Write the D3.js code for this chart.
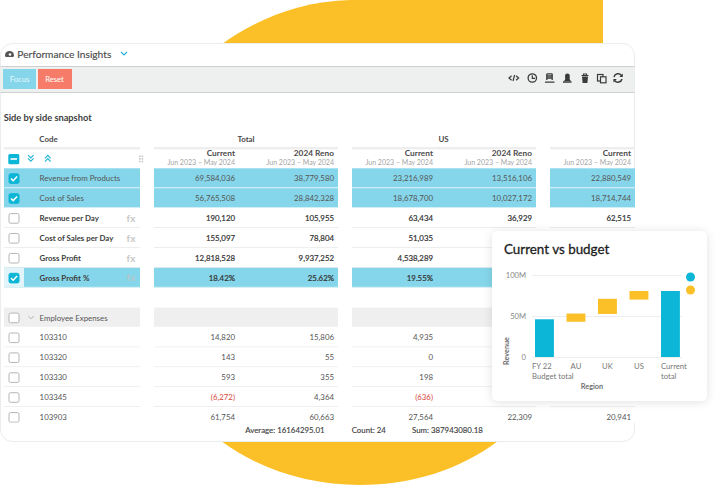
<!DOCTYPE html>
<html><head><meta charset="utf-8">
<script src="https://cdn.jsdelivr.net/npm/d3@7"></script>
<style>
html,body{margin:0;padding:0;background:#fff;overflow:hidden}
svg{display:block;font-family:Lato,sans-serif}
</style></head><body><svg id="c" width="720" height="485"></svg>
<script>
const rowLabels=["Revenue from Products","Cost of Sales","Revenue per Day","Cost of Sales per Day","Gross Profit","Gross Profit %"];
const rowChecked=[true,true,false,false,false,true];
const rowFx=[false,false,true,true,true,true];
const rowBold=[false,false,true,true,true,true];
const totalCurrent=["69,584,036","56,765,508","190,120","155,097","12,818,528","18.42%"];
const totalReno=["38,779,580","28,842,328","105,955","78,804","9,937,252","25.62%"];
const usCurrent=["23,216,989","18,678,700","63,434","51,035","4,538,289","19.55%"];
const usReno=["13,516,106","10,027,172","36,929","","",""];
const thirdCurrent=["22,880,549","18,714,744","62,515","","",""];
const codes=["103310","103320","103330","103345","103903"];
const codeTotalCurrent=["14,820","143","593","(6,272)","61,754"];
const codeTotalReno=["15,806","55","355","4,364","60,663"];
const codeUsCurrent=["4,935","0","198","(636)","27,564"];
const codeUsReno=["","","","","22,309"];
const codeThirdCurrent=["","","","","20,941"];
const regions=["FY 22","AU","UK","US","Current"];
const regionSecondLine=["Budget total","","","","total"];
const barStart=[0,43,52.5,70,0];
const barEnd=[46,53,71,80.5,80.5];
const barKind=["total","delta","delta","delta","total"];
const yTicks=[0,50,100];
const footer=["Average: 16164295.01","Count: 24","Sum: 387943080.18"];

const TEAL="#0bb6d6",YEL="#fbc027",HI="#85d6ea",TXT="#555",BOLD="#3d3d3d";
const svg=d3.select("#c");
const defs=svg.append("defs");
const sh=defs.append("filter").attr("id","sh").attr("x","-15%").attr("y","-15%").attr("width","130%").attr("height","130%");
sh.append("feDropShadow").attr("dx",0).attr("dy",1).attr("stdDeviation",5).attr("flood-color","#000").attr("flood-opacity",.12);
defs.append("clipPath").attr("id","tb").append("rect").attr("x",0).attr("y",100).attr("width",635).attr("height",322.7);

// decorative blob
svg.append("path").attr("fill",YEL).attr("d","M222 44 C255 20 300 1 350 0 L603 0 L603 44 Z");
svg.append("path").attr("fill",YEL).attr("d","M221 441 C260 470 310 485 360 485 C410 485 460 470 498 441 Z");

// main card
svg.append("rect").attr("x",0.5).attr("y",43.5).attr("width",634).attr("height",398).attr("rx",12).attr("fill","#fff").attr("stroke","#e9eded");
svg.append("rect").attr("x",.5).attr("y",66).attr("width",634).attr("height",26).attr("fill","#eef0f0");
svg.append("path").attr("d","M.5 66.5H634.5M.5 92.5H634.5").attr("stroke","#cfd1d1");

// header
svg.append("path").attr("fill","#555").attr("d","M5 55.5a4.5 4.5 0 1 1 9 0l-.6 1.5H5.6Z");
svg.append("circle").attr("cx",10).attr("cy",54.5).attr("r",1.3).attr("fill","#fff");
svg.append("text").attr("x",17.3).attr("y",57.5).attr("font-size",10.2).attr("fill","#4d4d4d").attr("stroke","#4d4d4d").attr("stroke-width",.15).text("Performance Insights");
const chev=(g,x,y,c,w=1.2,s=3)=>g.append("path").attr("d",`M${x-s} ${y-s/2}L${x} ${y+s/2}L${x+s} ${y-s/2}`).attr("fill","none").attr("stroke",c).attr("stroke-width",w);
chev(svg,124,53.5,"#1fb4d8");
// buttons
svg.append("rect").attr("x",3).attr("y",69).attr("width",33).attr("height",20).attr("fill",HI);
svg.append("rect").attr("x",38).attr("y",69).attr("width",34).attr("height",20).attr("fill","#f67c69");
svg.append("text").attr("x",19.5).attr("y",82).attr("font-size",7.7).attr("text-anchor","middle").attr("fill","#e6f7fb").text("Focus");
svg.append("text").attr("x",54.5).attr("y",82).attr("font-size",7.7).attr("text-anchor","middle").attr("fill","#fff").text("Reset");

// toolbar icons
const ic=svg.append("g").attr("fill","none").attr("stroke","#3a3a3a").attr("stroke-width",1.2);
ic.append("path").attr("d","M511.6 75.8L509 78L511.6 80.2M516 75.8L518.6 78L516 80.2M514.6 75L513 81");
ic.append("circle").attr("cx",532.3).attr("cy",78).attr("r",4.2).attr("stroke-width",1.3);
ic.append("path").attr("d","M532.3 75.3V78.4H535");
ic.append("path").attr("d","M546.8 73.8V80M552.2 73.8V80M546.8 73.8H552.2M547 76H552M547 78H552M545 82.2H554.5").attr("stroke-width",1.3);
ic.append("path").attr("d","M563 82H571.5").attr("stroke-width",1.5);
svg.append("path").attr("fill","#3a3a3a").attr("d","M564 81C566 79.5 565 78 565 76A2.4 2.4 0 0 1 569.8 76C569.8 78 569 79.5 571 81Z");
ic.append("path").attr("d","M581.5 75.5H588.5M583.5 75.5V74H586.5V75.5").attr("stroke-width",1.1);
svg.append("path").attr("fill","#3a3a3a").attr("d","M582 76.4H588L587.4 83H582.6Z");
ic.append("path").attr("d","M584.2 77.5V82M585.8 77.5V82").attr("stroke","#eef0f0").attr("stroke-width",.6);
ic.append("rect").attr("x",597.5).attr("y",74.5).attr("width",5.5).attr("height",6.5);
ic.append("rect").attr("x",600.5).attr("y",76.8).attr("width",5.5).attr("height",6).attr("fill","#eef0f0");
ic.append("path").attr("d","M614 77A4.2 4.2 0 0 1 621.5 75.5M622 79A4.2 4.2 0 0 1 614.7 80.7").attr("stroke-width",1.5);
svg.append("path").attr("fill","#3a3a3a").attr("d","M622.8 73.5V77H619.3ZM613.4 82.5V79H616.9Z");

// titles
svg.append("text").attr("x",3.7).attr("y",120.5).attr("font-size",9.25).attr("font-weight",700).attr("fill","#3d3d3d").text("Side by side snapshot");
const gt=svg.append("g").attr("font-size",7.9).attr("font-weight",700).attr("fill","#4a4a4a").attr("text-anchor","middle");
gt.append("text").attr("x",48.5).attr("y",141.5).text("Code");
gt.append("text").attr("x",246).attr("y",141.5).text("Total");
gt.append("text").attr("x",443.5).attr("y",141.5).text("US");

// column layout
const colBands=[[154,338],[352,536],[550,635]];
svg.append("g").selectAll("rect").data([[4,140],...colBands]).join("rect").attr("x",d=>d[0]).attr("y",147).attr("width",d=>d[1]-d[0]).attr("height",2.4).attr("fill","#eeeeee");

const colRight=[235,334,433,532,631];
const colHead=["Current","2024 Reno","Current","2024 Reno","Current"];
const hd=svg.append("g").attr("text-anchor","end");
colRight.forEach((x,i)=>{
 hd.append("text").attr("x",x).attr("y",156.2).attr("font-size",8.3).attr("font-weight",700).attr("fill","#4a4a4a").text(colHead[i]);
 hd.append("text").attr("x",x).attr("y",165).attr("font-size",7).attr("fill","#a5a5a5").text("Jun 2023 – May 2024");
});
// header tools
svg.append("rect").attr("x",8.3).attr("y",154).attr("width",11).attr("height",10.3).attr("rx",1.5).attr("fill",TEAL);
svg.append("path").attr("d","M10.5 159H17").attr("stroke","#fff").attr("stroke-width",1.6);
[0,1].forEach(i=>{chev(svg,30.8,156.5+i*3.2,"#1fb4d8",1.1,2.8);});
[0,1].forEach(i=>{svg.append("path").attr("d",`M45 ${158.4+i*3.2}L47.8 ${155.4+i*3.2}L50.6 ${158.4+i*3.2}`).attr("fill","none").attr("stroke","#1fb4d8").attr("stroke-width",1.1);});
[0,1,2].forEach(r=>[0,1].forEach(c=>svg.append("rect").attr("x",139+c*2.6).attr("y",155.5+r*2.6).attr("width",1.6).attr("height",1.6).attr("fill","#c5c5c5")));

// table rows
const T=svg.append("g").attr("clip-path","url(#tb)");
const rowY=d3.scaleLinear().domain([0,1]).range([168.3,188.2]);
const H=19.2;
const cb=(x,y,on)=>{
 T.append("rect").attr("x",x+.5).attr("y",y+.5).attr("width",10).attr("height",9.6).attr("rx",1.6)
  .attr("fill",on?TEAL:"#fff").attr("stroke",on?TEAL:"#b5b5b5").attr("stroke-width",1);
 if(on)T.append("path").attr("d",`M${x+2.5} ${y+5.3}L${x+4.7} ${y+7.4}L${x+8.6} ${y+3.2}`).attr("fill","none").attr("stroke","#fff").attr("stroke-width",1.5);
};
const drawRow=(i,label,vals,o)=>{
 const y=rowY(i);
 const fill=o.checked?HI:"#fff";
 T.append("rect").attr("x",4).attr("y",y).attr("width",136).attr("height",H).attr("fill",fill);
 if(o.pale)T.append("rect").attr("x",4).attr("y",y).attr("width",20).attr("height",H).attr("fill","#e1f4f9");
 colBands.forEach(b=>T.append("rect").attr("x",b[0]).attr("y",y).attr("width",b[1]-b[0]).attr("height",H).attr("fill",fill));
 [[4,140],...colBands].forEach(b=>T.append("path").attr("d",`M${b[0]} ${y+H+.3}H${b[1]}`).attr("stroke",o.checked?"#cfeef6":"#ececec"));
 cb(8.5,y+5,o.checked);
 T.append("text").attr("x",39.6).attr("y",y+12.9).attr("font-size",7.85).attr("font-weight",o.bold?700:400).attr("fill",o.bold?BOLD:TXT).text(label);
 if(o.fx)T.append("text").attr("x",126.6).attr("y",y+13.6).attr("font-size",10).attr("font-weight",700).attr("fill",o.checked?"#b3c7cc":"#c8c8c8").text("fx");
 vals.forEach((v,c)=>{ if(!v)return;
  const col=v.startsWith("(")?"#d9453d":(o.strong?"#333":TXT);
  T.append("text").attr("x",colRight[c]).attr("y",y+12.9).attr("text-anchor","end").attr("font-size",7.85)
   .attr("fill",col).attr("stroke",o.strong?col:"none").attr("stroke-width",o.strong?.2:0).text(v);
 });
};
rowLabels.forEach((l,i)=>drawRow(i,l,[totalCurrent[i],totalReno[i],usCurrent[i],usReno[i],thirdCurrent[i]],
 {checked:rowChecked[i],fx:rowFx[i],bold:rowBold[i],pale:i===5,strong:i>=2}));
// group row
const gy=rowY(7);
[[4,140],...colBands].forEach(b=>T.append("rect").attr("x",b[0]).attr("y",gy).attr("width",b[1]-b[0]).attr("height",H).attr("fill","#efefef"));
cb(8.5,gy+5,false);
chev(T,31,gy+9.8,"#aaa",.9,2.8);
T.append("text").attr("x",39.6).attr("y",gy+12.9).attr("font-size",7.85).attr("fill",TXT).text("Employee Expenses");
codes.forEach((l,i)=>drawRow(8+i,l,[codeTotalCurrent[i],codeTotalReno[i],codeUsCurrent[i],codeUsReno[i],codeThirdCurrent[i]],{checked:false}));

// footer
const fx=[245.3,351.7,412];
svg.append("g").selectAll("text").data(footer).join("text").attr("x",(d,i)=>fx[i]).attr("y",433).attr("font-size",7.85).attr("fill","#3d3d3d").attr("stroke","#3d3d3d").attr("stroke-width",.12).text(d=>d);

// floating chart card
svg.append("rect").attr("x",492).attr("y",231).attr("width",215).attr("height",170).attr("rx",6).attr("fill","#fff").attr("filter","url(#sh)");
svg.append("text").attr("x",504).attr("y",254.3).attr("font-size",13.4).attr("fill","#1c1c1c").attr("stroke","#1c1c1c").attr("stroke-width",.3).text("Current vs budget");
const x=d3.scaleBand().domain(regions).range([528.7,686.2]).paddingInner(.4).paddingOuter(.2);
const y=d3.scaleLinear().domain([0,100]).range([357,275]);
const yAxis=svg.append("g").attr("transform","translate(532,0)")
 .call(d3.axisLeft(y).tickValues(yTicks).tickSize(-150).tickPadding(6).tickFormat(d=>d?d+"M":"0"));
yAxis.select(".domain").remove();
yAxis.selectAll("line").attr("stroke","#eeeeee");
yAxis.selectAll("text").attr("font-family","Lato").attr("font-size",7.6).attr("fill","#888");
svg.append("g").selectAll("rect").data(regions).join("rect")
 .attr("x",d=>x(d)).attr("width",x.bandwidth())
 .attr("y",(d,i)=>y(barEnd[i])).attr("height",(d,i)=>y(barStart[i])-y(barEnd[i]))
 .attr("fill",(d,i)=>barKind[i]==="total"?TEAL:YEL);
const xAxis=svg.append("g").attr("transform","translate(0,357)").call(d3.axisBottom(x).tickSize(0).tickPadding(7));
xAxis.select(".domain").remove();
xAxis.selectAll("text").attr("font-family","Lato").attr("font-size",7.7).attr("fill","#777");
xAxis.selectAll(".tick").each(function(d,i){
 const t=d3.select(this).select("text");
 if(regionSecondLine[i]){
  const left=i===0?532-x(d)-x.bandwidth()/2:-x.bandwidth()/2;
  t.attr("text-anchor","start").attr("x",left);
  t.append("tspan").attr("x",left).attr("dy","1.25em").text(regionSecondLine[i]);
 }
});
svg.append("text").attr("x",592).attr("y",388.5).attr("text-anchor","middle").attr("font-size",7.3).attr("font-weight",700).attr("fill","#6f6f6f").text("Region");
svg.append("text").attr("transform","translate(509,351) rotate(-90)").attr("text-anchor","middle").attr("font-size",7.3).attr("font-weight",700).attr("fill","#6f6f6f").text("Revenue");
svg.append("circle").attr("cx",690.5).attr("cy",277).attr("r",4.5).attr("fill",TEAL);
svg.append("circle").attr("cx",690.5).attr("cy",290).attr("r",4.5).attr("fill",YEL);
</script></body></html>
